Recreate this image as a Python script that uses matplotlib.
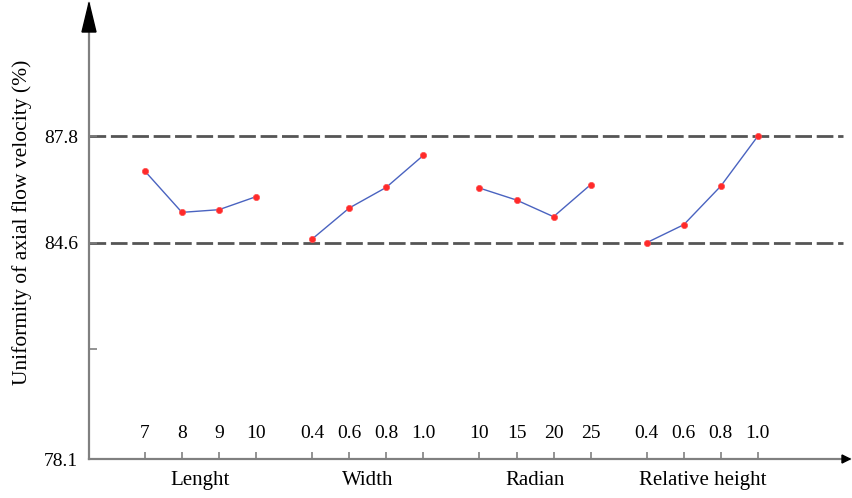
import matplotlib
matplotlib.use("Agg")
import matplotlib.pyplot as plt
from matplotlib.patches import Polygon
from matplotlib.transforms import blended_transform_factory

# ---- data ----
groups = ["Lenght", "Width", "Radian", "Relative height"]
levels = [["7", "8", "9", "10"],
          ["0.4", "0.6", "0.8", "1.0"],
          ["10", "15", "20", "25"],
          ["0.4", "0.6", "0.8", "1.0"]]
length_vals = [86.75, 85.51, 85.59, 85.98]
width_vals = [84.71, 85.64, 86.26, 87.22]
radian_vals = [86.24, 85.88, 85.38, 86.34]
relheight_vals = [84.60, 85.14, 86.30, 87.80]
series = [length_vals, width_vals, radian_vals, relheight_vals]
ref_lines = [87.8, 84.6]
ytick_vals = [78.1, 81.4, 84.6, 87.8]
ytick_labels = ["78.1", "", "84.6", "87.8"]

group_offset = 4.52

plt.rcParams['font.family'] = ['Liberation Serif', 'DejaVu Serif']

fig = plt.figure(figsize=(8.52, 4.98), dpi=100)
ax = fig.add_axes([89/852, 39/498, (850-89)/852, (459-3)/498])
ax.set_xlim(-1.51, 19.05)
ax.set_ylim(78.1, 91.8)

for y in ref_lines:
    ax.hlines(y, -1.51, 18.86, colors="#555555", linewidth=2.0,
              linestyles=(0, (6, 1.7)), zorder=1)

blend = blended_transform_factory(ax.transData, ax.transAxes)
xticks = []
for g, (name, labs, vals) in enumerate(zip(groups, levels, series)):
    xs = [g * group_offset + i for i in range(len(vals))]
    xticks += xs
    ax.plot(xs, vals, color="#4a63c0", linewidth=1.0, zorder=2)
    ax.plot(xs, vals, linestyle="none", marker="o", markersize=4.5,
            markerfacecolor="#ff2a2a", markeredgecolor="#ff5050",
            markeredgewidth=0.5, zorder=3)
    for x, lab in zip(xs, labs):
        ax.text(x, 0.057, lab, transform=blend, ha="center", va="center",
                fontsize=14)
    ax.text(sum(xs) / len(xs), -0.048, name, transform=blend, ha="center",
            va="center", fontsize=15, clip_on=False)

ax.set_xticks(xticks)
ax.set_xticklabels([])
ax.tick_params(axis="x", direction="in", length=5, width=1.2, color="#808080")
ax.set_yticks(ytick_vals)
ax.set_yticklabels(ytick_labels, fontsize=14)
ax.tick_params(axis="y", direction="in", length=6, width=1.2, color="#808080",
               pad=8)

for s in ["top", "right"]:
    ax.spines[s].set_visible(False)
for s in ["left", "bottom"]:
    ax.spines[s].set_color("#808080")
    ax.spines[s].set_linewidth(1.6)

# arrowheads (axes-fraction coordinates)
W, H = 761, 456
up = Polygon([(-7/W, (459-32)/H), (7/W, (459-32)/H), (0, 1.0)],
             closed=True, transform=ax.transAxes, color="black",
             clip_on=False, zorder=5)
ax.add_patch(up)
right = Polygon([(1 - 8/W, 4/H), (1 - 8/W, -4/H), (1.0, 0)],
                closed=True, transform=ax.transAxes, color="black",
                clip_on=False, zorder=5)
ax.add_patch(right)

fig.text(22/852, 1 - 222/498, "Uniformity of axial flow velocity (%)",
         rotation=90, ha="center", va="center", fontsize=15.5)

fig.savefig("out.png", dpi=100)
